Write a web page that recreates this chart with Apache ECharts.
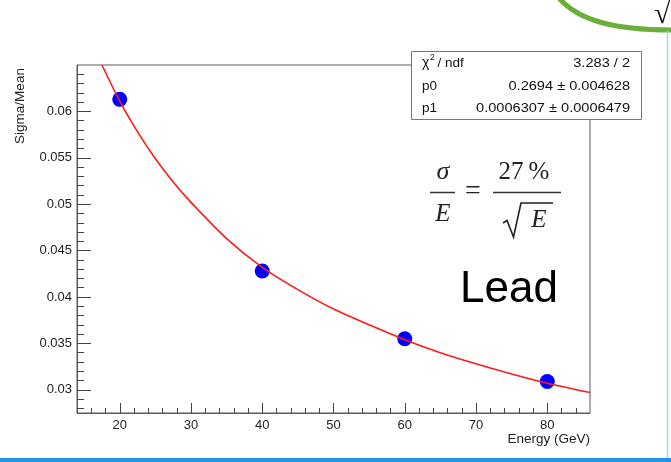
<!DOCTYPE html>
<html>
<head>
<meta charset="utf-8">
<script src="https://cdn.jsdelivr.net/npm/echarts@6/dist/echarts.min.js"></script>
<style>
html,body{margin:0;padding:0;background:#fff;}
#chart{width:671px;height:462px;}
</style>
</head>
<body>
<div id="chart"></div>
<script>
// Measured points
const energy = [20, 40, 60, 80];
const sigmaOverMean = [0.0613, 0.0428, 0.0355, 0.0309];
// Fit curve
const fitEnergy = [17.5, 20, 22.5, 25, 27.5, 30, 35, 40, 45, 50, 55, 60, 65, 70, 75, 80, 86];
const fitValue  = [0.0650, 0.0611, 0.0578, 0.0549, 0.0524, 0.0502, 0.0463, 0.0432, 0.0408, 0.0387, 0.0370, 0.0354, 0.0340, 0.0328, 0.0317, 0.0307, 0.0297];
// Axis ticks
const xMajor = [20, 30, 40, 50, 60, 70, 80];
const xMinor = [16, 18, 22, 24, 26, 28, 32, 34, 36, 38, 42, 44, 46, 48, 52, 54, 56, 58, 62, 64, 66, 68, 72, 74, 76, 78, 82, 84];
const yMajor = [0.03, 0.035, 0.04, 0.045, 0.05, 0.055, 0.06];
const yMinor = [0.028, 0.029, 0.031, 0.032, 0.033, 0.034, 0.036, 0.037, 0.038, 0.039, 0.041, 0.042, 0.043, 0.044,
                0.046, 0.047, 0.048, 0.049, 0.051, 0.052, 0.053, 0.054, 0.056, 0.057, 0.058, 0.059, 0.061, 0.062, 0.063, 0.064];
// Texts
const xTitle = 'Energy (GeV)';
const yTitle = 'Sigma/Mean';
const statRows = [['p0', '0.2694 \u00b1 0.004628'], ['p1', '0.0006307 \u00b1 0.0006479']];
const chiValue = '3.283 / 2';

const SANS = '"Liberation Sans", Arial, Helvetica, sans-serif';
const SERIF = '"Liberation Serif", "Times New Roman", serif';
const AX = '#5a5a5a';

function txt(x, y, text, opt) {
  opt = opt || {};
  const st = {
    text: text,
    fill: opt.color || '#111',
    fontSize: opt.size || 14,
    fontFamily: opt.family || SANS,
    fontStyle: opt.style || 'normal',
    align: opt.align || 'left', textAlign: opt.align || 'left',
    verticalAlign: 'middle', textVerticalAlign: 'middle'
  };
  const el = { type: 'text', x: x, y: y, z: 100, style: st };
  if (opt.rotation) el.rotation = opt.rotation;
  if (opt.scaleX) el.scaleX = opt.scaleX;
  return el;
}
function ln(x1, y1, x2, y2, color, w) {
  return { type: 'line', z: 100, shape: { x1: x1, y1: y1, x2: x2, y2: y2 }, style: { stroke: color, lineWidth: w } };
}

const chart = echarts.init(document.getElementById('chart'), null, { renderer: 'canvas' });

const graphics = [
  // slide decorations
  { type: 'bezierCurve', z: 100, shape: { x1: 558, y1: -3, cpx1: 578, cpy1: 21, cpx2: 615, cpy2: 30, x2: 673, y2: 30 },
    style: { stroke: '#6aae3c', lineWidth: 5, fill: null } },
  txt(654, 15, '\u221a', { size: 30, family: SERIF, color: '#111' }),
  ln(667.5, 31, 667.5, 458, '#a9d6f7', 1.5),
  { type: 'rect', z: 100, shape: { x: 0, y: 458, width: 671, height: 4 }, style: { fill: '#1b95f0' } },
  // stats box
  { type: 'rect', z: 100, shape: { x: 411.5, y: 51.5, width: 230, height: 68 }, style: { fill: '#fff', stroke: '#777', lineWidth: 1 } },
  txt(422, 63, '\u03c7', { size: 14 }),
  txt(430, 58, '2', { size: 8.5 }),
  txt(437.5, 63, '/ ndf', { size: 13.5 }),
  txt(630, 63, chiValue, { size: 13.5, align: 'right', scaleX: 1.08 }),
  txt(422, 86, statRows[0][0], { size: 13.5 }),
  txt(630, 86, statRows[0][1], { size: 13.5, align: 'right', scaleX: 1.08 }),
  txt(422, 108, statRows[1][0], { size: 13.5 }),
  txt(630, 108, statRows[1][1], { size: 13.5, align: 'right', scaleX: 1.08 }),
  // formula sigma/E = 27%/sqrt(E)
  txt(443, 172, '\u03c3', { size: 26, family: SERIF, style: 'italic', align: 'center', color: '#222' }),
  ln(430, 192.5, 455, 192.5, '#333', 1.5),
  txt(443, 214, 'E', { size: 25, family: SERIF, style: 'italic', align: 'center', color: '#222' }),
  txt(473, 192, '=', { size: 28, family: SERIF, align: 'center', color: '#222' }),
  txt(524, 172, '27\u2009%', { size: 25, family: SERIF, align: 'center', color: '#222' }),
  ln(493, 192.5, 561, 192.5, '#333', 1.5),
  { type: 'polyline', z: 100, shape: { points: [[503, 223], [507, 220.5], [513.5, 237], [521, 203], [553, 203]] },
    style: { stroke: '#222', lineWidth: 1.6, fill: null } },
  txt(539, 220, 'E', { size: 25, family: SERIF, style: 'italic', align: 'center', color: '#222' }),
  // Lead
  txt(509, 290, 'Lead', { size: 44, align: 'center', color: '#000' }),
  // axis titles
  txt(20, 106, yTitle, { size: 13.5, align: 'center', rotation: Math.PI / 2, color: '#222' }),
  txt(590, 439, xTitle, { size: 13.5, align: 'right', color: '#222' })
];

const option = {
  animation: false,
  backgroundColor: '#fff',
  grid: { left: 77, right: 81, top: 65, bottom: 49, show: true, borderColor: AX, borderWidth: 1, containLabel: false, outerBoundsMode: 'none' },
  xAxis: [
    { type: 'value', min: 14, max: 86, position: 'bottom',
      axisLine: { show: true, lineStyle: { color: AX, width: 1 } },
      axisTick: { show: true, inside: true, length: 10, customValues: xMajor, lineStyle: { color: '#444' } },
      axisLabel: { show: true, customValues: xMajor, margin: 6, fontSize: 13, fontFamily: SANS, color: '#222' },
      splitLine: { show: false } },
    { type: 'value', min: 14, max: 86, position: 'bottom',
      axisLine: { show: false },
      axisTick: { show: true, inside: true, length: 5, customValues: xMinor, lineStyle: { color: '#444' } },
      axisLabel: { show: false }, splitLine: { show: false } }
  ],
  yAxis: [
    { type: 'value', min: 0.0275, max: 0.065, position: 'left',
      axisLine: { show: true, lineStyle: { color: AX, width: 1 } },
      axisTick: { show: true, inside: true, length: 14, customValues: yMajor, lineStyle: { color: '#444' } },
      axisLabel: { show: true, customValues: yMajor, margin: 5, fontSize: 13, fontFamily: SANS, color: '#222' },
      splitLine: { show: false } },
    { type: 'value', min: 0.0275, max: 0.065, position: 'left',
      axisLine: { show: false },
      axisTick: { show: true, inside: true, length: 7, customValues: yMinor, lineStyle: { color: '#444' } },
      axisLabel: { show: false }, splitLine: { show: false } }
  ],
  series: [
    { type: 'scatter', xAxisIndex: 0, yAxisIndex: 0, z: 2,
      data: energy.map((e, i) => [e, sigmaOverMean[i]]),
      symbol: 'circle', symbolSize: 15, itemStyle: { color: '#0000ff', opacity: 1 } },
    { type: 'line', xAxisIndex: 0, yAxisIndex: 0, z: 3,
      data: fitEnergy.map((e, i) => [e, fitValue[i]]),
      smooth: 0.25, showSymbol: false, symbol: 'none', clip: true,
      lineStyle: { color: '#ff1a1a', width: 1.6 } }
  ],
  graphic: graphics
};
chart.setOption(option);
</script>
</body>
</html>
